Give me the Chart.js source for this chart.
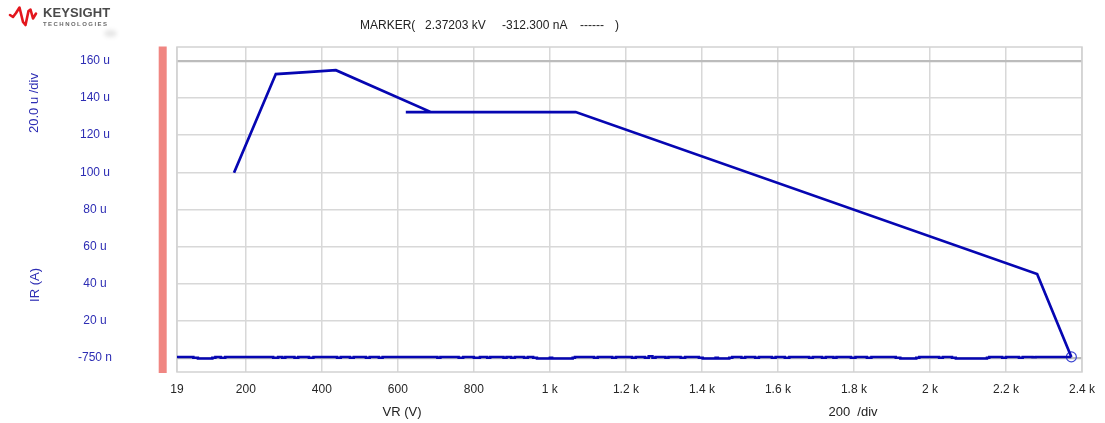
<!DOCTYPE html>
<html>
<head>
<meta charset="utf-8">
<script src="https://cdn.jsdelivr.net/npm/chart.js@4/dist/chart.umd.min.js"></script>
<style>
  html, body { margin: 0; padding: 0; background: #fff; }
  #wrap { position: relative; width: 1105px; height: 423px; overflow: hidden;
          font-family: "Liberation Sans", Arial, sans-serif; }
  #plot { position: absolute; left: 0; top: 0; }
  .t { position: absolute; white-space: pre; font-size: 12px; line-height: 14px; color: #222; }
  .ax { font-size: 13px; line-height: 15px; }
  .rot { transform: translate(-50%, -50%) rotate(-90deg); color: #2d2db4; }
  .ctr { transform: translate(-50%, -50%); }
  #brand { left: 43px; top: 6px; font-size: 13px; font-weight: bold; color: #4a4a4a; letter-spacing: 0.1px; }
  #brand2 { left: 43px; top: 21px; font-size: 6px; line-height: 6px; font-weight: bold; color: #6a6a6a; letter-spacing: 1.45px; }
  #smudge { position: absolute; left: 104px; top: 30px; width: 13px; height: 7px; border-radius: 50%;
            background: rgba(0,0,0,0.10); filter: blur(2px); }
</style>
</head>
<body>
<div id="wrap">
  <canvas id="plot" width="1105" height="423"></canvas>

  <svg style="position:absolute;left:0;top:0" width="40" height="30">
    <polyline points="10,15 13,17 16,13 19.5,7.5 23,22 25.5,25 28.5,11 30.5,9.5 33,18.5 36,13.5"
              fill="none" stroke="#e3161d" stroke-width="2.6" stroke-linejoin="round" stroke-linecap="round"/>
  </svg>
  <div class="t" id="brand">KEYSIGHT</div>
  <div class="t" id="brand2">TECHNOLOGIES</div>
  <div id="smudge"></div>

  <div class="t" style="left:360px;top:18px">MARKER(</div>
  <div class="t" style="left:425px;top:18px">2.37203 kV</div>
  <div class="t" style="left:502px;top:18px">-312.300 nA</div>
  <div class="t" style="left:580px;top:18px">------</div>
  <div class="t" style="left:615px;top:18px">)</div>

  <div class="t ax rot" style="left:33px;top:103px">20.0 u /div</div>
  <div class="t ax rot" style="left:34px;top:285px">IR (A)</div>

  <div class="t ax ctr" style="left:402px;top:411px">VR (V)</div>
  <div class="t ax ctr" style="left:853px;top:411px">200  /div</div>
</div>

<script>
// Reverse-bias sweep: VR in volts, IR in microamps.
const mainV = [169, 279, 360, 437, 687, 621, 1068, 2282, 2372.03];
const mainI = [99.0, 152.2, 153.2, 154.3, 131.7, 131.7, 131.7, 44.4, -0.3123];

// Near-zero leakage trace along the bottom (V, µA).
const bottomTrace = [
  [19, -0.75], [62, -0.35], [74, -0.75], [112, -1.15], [120, -0.75], [134, -0.35], [146, -0.75],
  [272, -0.35], [285, -0.75], [296, -0.35], [304, -0.75], [328, -0.35], [338, -0.75],
  [366, -0.35], [378, -0.75], [440, -0.35], [450, -0.75], [474, -0.35], [484, -0.75],
  [516, -0.35], [526, -0.75], [550, -0.35], [560, -0.75], [704, -0.35], [712, -0.75],
  [760, -0.35], [772, -0.75], [800, -0.35], [816, -0.75], [835, -0.35], [843, -0.75],
  [878, -0.35], [886, -0.75], [898, -0.35], [908, -0.75], [932, -0.35], [942, -0.75],
  [956, -0.35], [966, -0.75], [1000, -1.15], [1006, -0.75], [1060, -1.15], [1066, -0.75],
  [1116, -0.35], [1126, -0.75], [1164, -0.35], [1174, -0.75], [1216, -0.35], [1226, -0.75],
  [1250, -0.35], [1260, -0.75], [1270, 0.1], [1278, -0.75], [1304, -0.35], [1312, -0.75],
  [1344, -0.35], [1356, -0.75], [1392, -0.35], [1402, -0.75], [1436, -1.15], [1442, -0.75],
  [1472, -1.15], [1480, -0.75], [1504, -0.35], [1514, -0.75], [1540, -0.35], [1550, -0.75],
  [1584, -0.35], [1594, -0.75], [1618, -0.35], [1630, -0.75], [1682, -0.35], [1692, -0.75],
  [1716, -0.35], [1726, -0.75], [1746, -0.35], [1754, -0.75], [1792, -0.35], [1804, -0.75],
  [1834, -0.35], [1846, -0.75], [1910, -0.35], [1922, -0.75], [1964, -1.15], [1972, -0.75],
  [2024, -0.35], [2034, -0.75], [2058, -0.35], [2068, -0.75], [2150, -1.15], [2156, -0.75],
  [2190, -0.35], [2200, -0.75], [2234, -0.35], [2244, -0.75], [2270, -0.35], [2278, -0.45],
  [2372.03, -0.3123]
];

// Marker readout position.
const markerV = 2372.03;
const markerI = -0.3123;

// Axis ticks and their labels.
const xTickValues = [19, 200, 400, 600, 800, 1000, 1200, 1400, 1600, 1800, 2000, 2200, 2400];
const xTickLabels = ['19', '200', '400', '600', '800', '1 k', '1.2 k', '1.4 k', '1.6 k', '1.8 k', '2 k', '2.2 k', '2.4 k'];
const yTickValues = [-0.75, 19.25, 39.25, 59.25, 79.25, 99.25, 119.25, 139.25, 159.25];
const yTickLabels = ['-750 n', '20 u', '40 u', '60 u', '80 u', '100 u', '120 u', '140 u', '160 u'];

const TRACE = '#0606b2';

// Frame around the plot area and the red strip at its left.
const framePlugin = {
  id: 'frame',
  beforeDatasetsDraw(chart) {
    const { ctx, chartArea: a } = chart;
    ctx.save();
    ctx.fillStyle = '#f08682';
    ctx.fillRect(a.left - 18.3, a.top - 0.5, 8, a.bottom - a.top + 1.5);
    ctx.strokeStyle = '#d2d2d2';
    ctx.lineWidth = 1.5;
    ctx.strokeRect(a.left, a.top, a.right - a.left, a.bottom - a.top);
    ctx.restore();
  }
};

new Chart(document.getElementById('plot'), {
  type: 'scatter',
  data: {
    datasets: [
      {
        data: bottomTrace.map(p => ({ x: p[0], y: p[1] })),
        showLine: true, stepped: 'after',
        borderColor: TRACE, borderWidth: 2.5, pointRadius: 0
      },
      {
        data: mainV.map((v, i) => ({ x: v, y: mainI[i] })),
        showLine: true,
        borderColor: TRACE, borderWidth: 2.7, pointRadius: 0
      },
      {
        data: [{ x: markerV, y: markerI }],
        showLine: false,
        pointRadius: 5, pointBorderWidth: 1.2,
        pointBorderColor: '#3a44d0', pointBackgroundColor: 'rgba(0,0,0,0)'
      }
    ]
  },
  options: {
    responsive: false,
    animation: false,
    devicePixelRatio: 1,
    layout: { padding: { left: 0, right: 23, top: 47, bottom: 0 } },
    plugins: { legend: { display: false }, tooltip: { enabled: false } },
    scales: {
      x: {
        type: 'linear', min: 19, max: 2400,
        afterBuildTicks(s) { s.ticks = xTickValues.map(v => ({ value: v })); },
        afterFit(s) { s.height = 51; },
        border: { display: false },
        grid: { color: '#d8d8d8', lineWidth: 1.5, drawTicks: false },
        ticks: {
          padding: 10, maxRotation: 0, autoSkip: false,
          color: '#262626',
          font: { family: '"Liberation Sans", Arial, sans-serif', size: 12 },
          callback(v) { const i = xTickValues.indexOf(v); return i >= 0 ? xTickLabels[i] : ''; }
        }
      },
      y: {
        type: 'linear', min: -8.45, max: 166.8,
        afterBuildTicks(s) { s.ticks = yTickValues.map(v => ({ value: v })); },
        afterFit(s) { s.width = 177; s.paddingTop = 0; s.paddingBottom = 0; },
        border: { display: false },
        grid: {
          drawTicks: false,
          color: c => (c.tick && (c.tick.value === 159.25 || c.tick.value === -0.75)) ? '#bcbcbc' : '#d8d8d8',
          lineWidth: c => (c.tick && (c.tick.value === 159.25 || c.tick.value === -0.75)) ? 2.2 : 1.5
        },
        ticks: {
          padding: 65, crossAlign: 'center', autoSkip: false,
          color: '#2d2db4',
          font: { family: '"Liberation Sans", Arial, sans-serif', size: 12 },
          callback(v) { const i = yTickValues.indexOf(v); return i >= 0 ? yTickLabels[i] : ''; }
        }
      }
    }
  },
  plugins: [framePlugin]
});
</script>
</body>
</html>
